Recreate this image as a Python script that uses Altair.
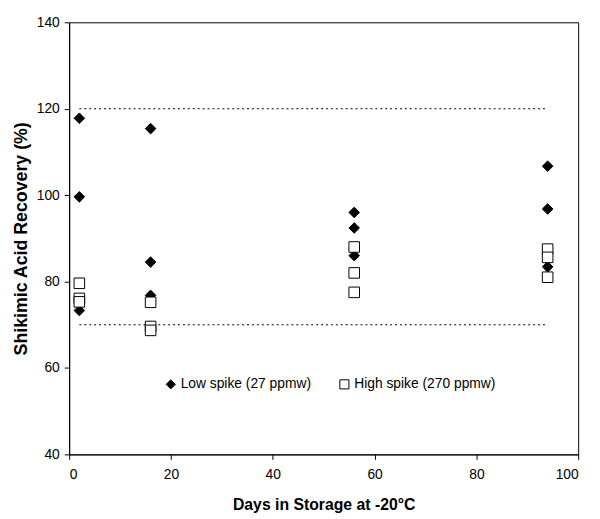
import altair as alt
import pandas as pd

# Data
days = [2, 16, 56, 94]
low_spike = [
    [117.8, 99.6, 73.3],
    [115.4, 84.5, 76.8],
    [96.0, 92.4, 86.0],
    [106.7, 96.8, 83.4],
]
high_spike = [
    [79.6, 76.1, 75.3],
    [75.2, 69.6, 68.7],
    [88.0, 82.0, 77.5],
    [87.5, 85.6, 81.0],
]
series_names = ["Low spike (27 ppmw)", "High spike (270 ppmw)"]
limit_values = [120, 70]
limit_start = [2]
limit_end = [94]

rows = []
for i, (name, block) in enumerate(zip(series_names, [low_spike, high_spike])):
    for d, vals in zip(days, block):
        for v in vals:
            rows.append({"day": d, "recovery": v, "series": name, "order": i})
points_df = pd.DataFrame(rows)

limits_df = pd.DataFrame({
    "y": limit_values,
    "x": limit_start * len(limit_values),
    "x2": limit_end * len(limit_values),
})

FONT = "Liberation Sans"

x_scale = alt.Scale(domain=[0, 100], nice=False)
y_scale = alt.Scale(domain=[40, 140], nice=False)

rules = alt.Chart(limits_df).mark_rule(
    color="black", strokeWidth=1, strokeDash=[2, 3]
).encode(
    x=alt.X("x:Q", scale=x_scale),
    x2="x2:Q",
    y=alt.Y("y:Q", scale=y_scale),
)

legend = alt.Legend(
    title=None,
    orient="none",
    direction="horizontal",
    legendX=96,
    legendY=360,
    symbolSize=85,
    symbolStrokeWidth=1,
    labelFont=FONT,
    labelFontSize=14,
    labelColor="black",
    labelOffset=3,
    columnPadding=26,
)

points = alt.Chart(points_df).mark_point(
    filled=True, strokeWidth=1, size=115, opacity=1
).encode(
    x=alt.X(
        "day:Q",
        scale=x_scale,
        axis=alt.Axis(
            title="Days in Storage at -20\u00b0C",
            values=[0, 20, 40, 60, 80, 100],
        ),
    ),
    y=alt.Y(
        "recovery:Q",
        scale=y_scale,
        axis=alt.Axis(
            title="Shikimic Acid Recovery (%)",
            values=[40, 60, 80, 100, 120, 140],
        ),
    ),
    shape=alt.Shape(
        "series:N",
        sort=series_names,
        scale=alt.Scale(domain=series_names, range=["diamond", "square"]),
        legend=legend,
    ),
    fill=alt.Fill(
        "series:N",
        sort=series_names,
        scale=alt.Scale(domain=series_names, range=["black", "white"]),
        legend=legend,
    ),
    stroke=alt.Stroke(
        "series:N",
        sort=series_names,
        scale=alt.Scale(domain=series_names, range=["black", "black"]),
        legend=legend,
    ),
    order=alt.Order("order:Q"),
)

chart = alt.layer(rules, points).properties(
    width=516,
    height=438,
    autosize=alt.AutoSizeParams(type="none"),
    padding={"left": 62, "top": 11, "right": 14, "bottom": 62},
).configure_view(
    stroke="black", strokeWidth=1
).configure_axis(
    grid=False,
    domainColor="black",
    domainWidth=1,
    tickColor="black",
    tickSize=5,
    tickWidth=1,
    labelFont=FONT,
    labelFontSize=14,
    labelColor="black",
    titleFont=FONT,
    titleFontWeight="bold",
    titleColor="black",
).configure_axisX(
    labelPadding=8,
    titlePadding=16,
    titleFontSize=16,
).configure_axisY(
    labelPadding=5,
    titlePadding=6,
    titleFontSize=18,
)

chart.save("out.html", embed_options={"renderer": "svg", "actions": False})
